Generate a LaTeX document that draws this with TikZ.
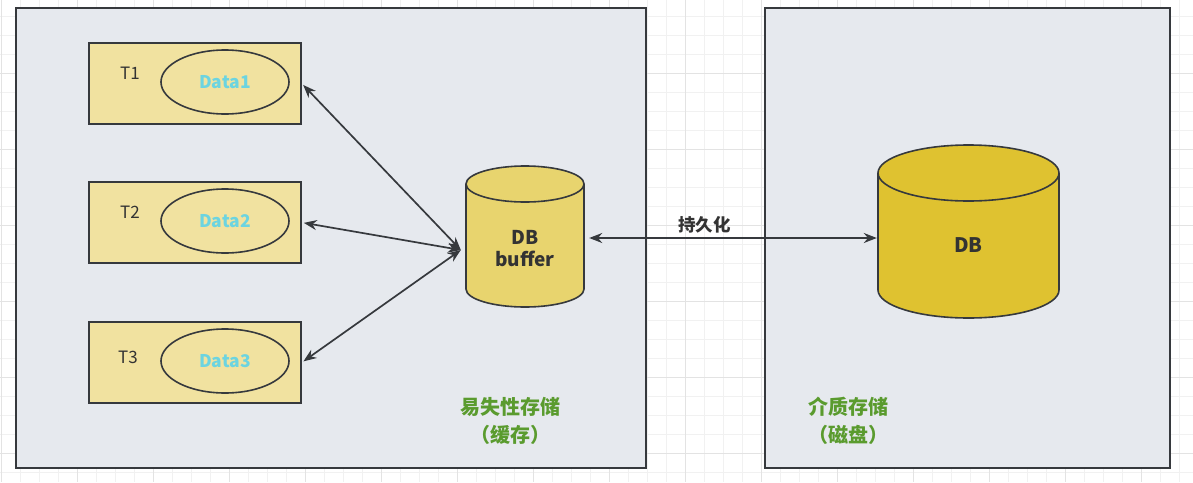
\documentclass[tikz,border=0pt]{standalone}
\usepackage{fontspec}
\setmainfont{Noto Sans CJK SC}
\newfontfamily\cjk{Noto Sans CJK SC}
\usetikzlibrary{shapes.geometric,arrows.meta}

\definecolor{panelgray}{HTML}{E6E9EE}
\definecolor{linedark}{HTML}{36393D}
\definecolor{tyellow}{HTML}{F1E2A0}
\definecolor{bufyellow}{HTML}{E8D46E}
\definecolor{dbyellow}{HTML}{DFC230}
\definecolor{datacyan}{HTML}{6CD4E0}
\definecolor{labelgreen}{HTML}{5A9B2E}
\definecolor{textdark}{HTML}{333333}
\definecolor{gridminor}{HTML}{F1F1F1}
\definecolor{gridmajor}{HTML}{E3E3E3}

\begin{document}
\begin{tikzpicture}[x=1pt, y=-1pt,
  panel/.style={draw=linedark, line width=1.8pt, fill=panelgray},
  tbox/.style={draw=linedark, line width=1.6pt, fill=tyellow, minimum width=212, minimum height=81, inner sep=0pt},
  dataell/.style={ellipse, draw=linedark, line width=1.6pt, fill=tyellow, minimum width=128, minimum height=64, inner sep=0pt, text=datacyan, font=\fontsize{17.5}{20}\selectfont\bfseries},
  tname/.style={text=textdark, font=\fontsize{17}{20}\selectfont},
  cylline/.style={draw=linedark, line width=1.6pt},
  cylnode/.style={inner sep=0pt},
  cyltext/.style={text=textdark, align=center, font=\fontsize{19}{22}\selectfont\bfseries},
  dblarrow/.style={{Stealth[length=13pt,width=10pt]}-{Stealth[length=13pt,width=10pt]}, draw=linedark, line width=1.7pt},
  storename/.style={text=labelgreen, align=center, font=\cjk\fontsize{20}{28}\selectfont\bfseries}]
\useasboundingbox (0,0) rectangle (1193,482);
\fill[white] (0,0) rectangle (1193,482);
\foreach \gx in {1,20,...,1193} \draw[gridminor, line width=0.8pt] (\gx,0) -- (\gx,482);
\foreach \gy in {-3,16,...,482} \draw[gridminor, line width=0.8pt] (0,\gy) -- (1193,\gy);
\foreach \gx in {1,77,...,1193} \draw[gridmajor, line width=0.8pt] (\gx,0) -- (\gx,482);
\foreach \gy in {-3,73,...,482} \draw[gridmajor, line width=0.8pt] (0,\gy) -- (1193,\gy);

% storage areas
\draw[panel] (16,8) rectangle (646,468);
\draw[panel] (765,8) rectangle (1170,468);

% transactions
\foreach \i/\yy/\ty/\tx in {1/83.5/73/130, 2/222.5/212/130, 3/362.5/357/128} {
  \node[tbox] (t\i) at (195,\yy) {};
  \node[tname] (t\i name) at (\tx,\ty) {T\i};
  \node[dataell] (d\i) at (225,\yy-1.5) {Data\i};
}

% cylinders
\filldraw[cylline, fill=bufyellow] (466,184) -- (466,289)
  arc[start angle=180, end angle=360, x radius=59pt, y radius=18pt] -- (584,184)
  arc[start angle=0, end angle=180, x radius=59pt, y radius=18pt] -- cycle;
\draw[cylline] (466,184) arc[start angle=180, end angle=360, x radius=59pt, y radius=18pt];
\filldraw[cylline, fill=dbyellow] (878,173) -- (878,290)
  arc[start angle=180, end angle=360, x radius=90.5pt, y radius=28pt] -- (1059,173)
  arc[start angle=0, end angle=180, x radius=90.5pt, y radius=28pt] -- cycle;
\draw[cylline] (878,173) arc[start angle=180, end angle=360, x radius=90.5pt, y radius=28pt];

\node[cylnode, minimum width=118, minimum height=141,
  label={[cyltext, yshift=-12.5pt]center:{DB\\buffer}}] (buf) at (525,236.5) {};
\node[cylnode, minimum width=181, minimum height=173,
  label={[cyltext, font=\fontsize{20}{22}\selectfont\bfseries, yshift=-13.5pt]center:DB}] (db) at (968.5,231.5) {};

\coordinate (bufin) at ([shift={(-5,13.5)}]buf.west);
\coordinate (bufout) at ([shift={(5,1.5)}]buf.east);
\foreach \i in {1,2,3} \draw[dblarrow, shorten >=2pt] (bufin) -- (t\i.east);
\draw[dblarrow, shorten >=1pt] (bufout) -- (bufout -| db.west)
  node[pos=0.4, above=1pt, text=textdark, font=\cjk\fontsize{17.5}{20}\selectfont\bfseries] (persist) {持久化};

\node[storename] (volatile) at (510,421) {易失性存储\\（缓存）};
\node[storename] (medium) at (848,421) {介质存储\\（磁盘）};
\end{tikzpicture}
\end{document}
